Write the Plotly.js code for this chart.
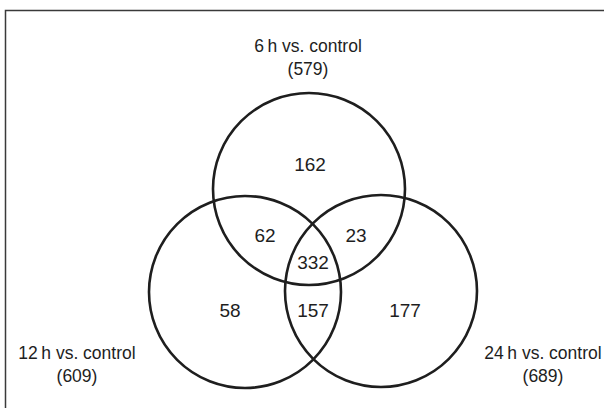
<!DOCTYPE html>
<html>
<head>
<meta charset="utf-8">
<script src="https://cdn.plot.ly/plotly-3.0.1.min.js"></script>
<style>html,body{margin:0;padding:0;background:#fff}#chart{width:604px;height:408px}</style>
</head>
<body>
<div id="chart"></div>
<script>
// ---- data ----
const setNames = ['6\u2009h vs. control', '12\u2009h vs. control', '24\u2009h vs. control'];
const setTotals = [579, 609, 689];
const regionNames = ['6h only', '6h&12h', '6h&24h', 'all', '12h only', '12h&24h', '24h only'];
const regionCounts = [162, 62, 23, 332, 58, 157, 177];

// ---- layout positions (pixel-like units) ----
const circlePos = [[309, 189], [245, 292], [381, 291]];
const radius = 96;
const setLabelPos = [[308, 48], [77, 355], [543, 355]];
const lineGap = 23;
const regionPos = [[310, 166], [265, 237], [356, 237], [313, 264], [230, 312], [313, 312], [405, 312]];

const ink = '#1e1e1e';
const font = 'Liberation Sans, Arial, sans-serif';

const traces = [
  {
    type: 'scatter', mode: 'text',
    x: regionPos.map(p => p[0]), y: regionPos.map(p => p[1]),
    text: regionCounts.map(String),
    textposition: 'middle center',
    textfont: {family: font, size: 19, color: ink},
    hoverinfo: 'none', showlegend: false, cliponaxis: false
  },
  {
    type: 'scatter', mode: 'text',
    x: setLabelPos.map(p => p[0]), y: setLabelPos.map(p => p[1]),
    text: setNames,
    textposition: 'middle center',
    textfont: {family: font, size: 17.5, color: ink},
    hoverinfo: 'none', showlegend: false, cliponaxis: false
  },
  {
    type: 'scatter', mode: 'text',
    x: setLabelPos.map(p => p[0]), y: setLabelPos.map(p => p[1] + lineGap),
    text: setTotals.map(v => '(' + v + ')'),
    textposition: 'middle center',
    textfont: {family: font, size: 17.5, color: ink},
    hoverinfo: 'none', showlegend: false, cliponaxis: false
  }
];

const shapes = circlePos.map(c => ({
  type: 'circle', xref: 'x', yref: 'y',
  x0: c[0] - radius, x1: c[0] + radius, y0: c[1] - radius, y1: c[1] + radius,
  line: {color: ink, width: 2.6}, fillcolor: 'rgba(0,0,0,0)'
}));
shapes.push({
  type: 'rect', xref: 'x', yref: 'y', x0: 5.5, x1: 640, y0: 10.5, y1: 440,
  line: {color: '#3a3a3a', width: 1.5}, fillcolor: 'rgba(0,0,0,0)', layer: 'below'
});

const layout = {
  width: 604, height: 408,
  margin: {l: 0, r: 0, t: 0, b: 0, pad: 0},
  paper_bgcolor: '#fff', plot_bgcolor: '#fff',
  xaxis: {range: [0, 604], visible: false, fixedrange: true},
  yaxis: {range: [408, 0], visible: false, fixedrange: true},
  shapes: shapes,
  showlegend: false
};

Plotly.newPlot('chart', traces, layout, {staticPlot: true, displayModeBar: false});
</script>
</body>
</html>
